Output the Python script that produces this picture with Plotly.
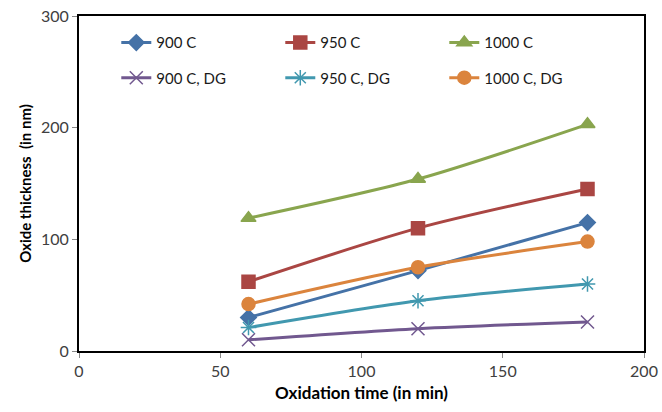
import plotly.graph_objects as go

times = [60, 120, 180]
s900 = [30, 72, 115]
s950 = [62, 110, 145]
s1000 = [119, 154, 203]
s900dg = [10, 20, 26]
s950dg = [21, 45, 60]
s1000dg = [42, 75, 98]

names = ["900 C", "950 C", "1000 C", "900 C, DG", "950 C, DG", "1000 C, DG"]
data = [s900, s950, s1000, s900dg, s950dg, s1000dg]
colors = ["#4572A7", "#AA4643", "#89A54E", "#71588F", "#4198AF", "#DB843D"]
symbols = ["diamond", "square", "triangle-up", "x-thin-open", "asterisk-open", "circle"]
sizes = [12, 13, 13, 13, 13, 13]
legends = ["legend", "legend", "legend", "legend2", "legend2", "legend2"]

x_ticks = [0, 50, 100, 150, 200]
y_ticks = [0, 100, 200, 300]

fig = go.Figure()
for n, d, c, s, sz, lg in zip(names, data, colors, symbols, sizes, legends):
    fig.add_trace(go.Scatter(
        x=times, y=d, name=n, mode="lines+markers",
        line=dict(color=c, width=3, shape="spline", smoothing=0.8),
        marker=dict(symbol=s, size=sz, color=c, line=dict(color=c, width=1.5)),
        legend=lg,
    ))

font_family = "Lato, Open Sans, sans-serif"
leg_common = dict(orientation="h", xanchor="left", yanchor="middle",
                  bgcolor="rgba(0,0,0,0)", entrywidth=119, entrywidthmode="pixels",
                  font=dict(family=font_family, size=15, color="#1a1a1a"),
                  itemwidth=30, tracegroupgap=0)

fig.update_layout(
    width=662, height=412,
    margin=dict(l=79, r=18, t=16, b=61, autoexpand=False),
    paper_bgcolor="white", plot_bgcolor="white",
    font=dict(family=font_family, size=16, color="#404040"),
    showlegend=True,
    legend=dict(x=0.066, y=0.92, **leg_common),
    legend2=dict(x=0.066, y=0.815, **leg_common),
    xaxis=dict(range=[0, 200], tickvals=x_ticks, showgrid=False, zeroline=False,
               showline=True, linecolor="#000000", linewidth=2, mirror=True,
               ticks="outside", ticklen=5, tickcolor="#888888", automargin=False,
               tickfont=dict(size=16, color="#404040"),
               title=dict(text="<b>Oxidation time (in min)</b>", standoff=8,
                          font=dict(size=17, color="#000000"))),
    yaxis=dict(range=[0, 300], tickvals=y_ticks, showgrid=False, zeroline=False,
               showline=True, linecolor="#000000", linewidth=2, mirror=True,
               ticks="outside", ticklen=5, tickcolor="#888888", automargin=False,
               tickfont=dict(size=16, color="#404040"),
               title=dict(text="<b>Oxide thickness  (in nm)</b>", standoff=6,
                          font=dict(size=15, color="#000000"))),
)

fig.write_html("out.html", config={"displayModeBar": False},
               post_script="document.body.style.margin='0';document.body.style.overflow='hidden';")
